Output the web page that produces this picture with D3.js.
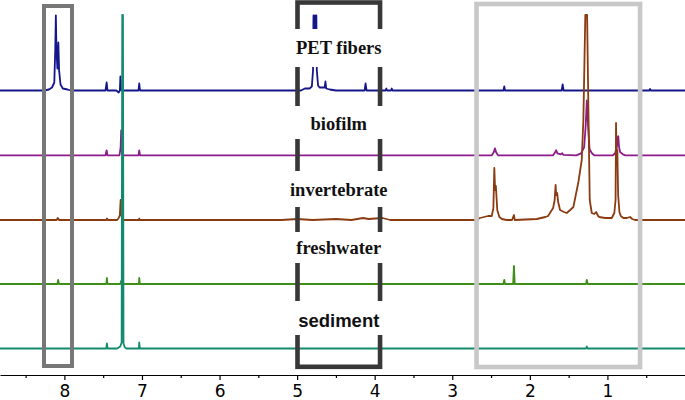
<!DOCTYPE html>
<html>
<head>
<meta charset="utf-8">
<script src="https://cdn.jsdelivr.net/npm/d3@7"></script>
<style>
html,body{margin:0;padding:0;background:#fff;}
svg{display:block;}
</style>
</head>
<body>
<svg id="chart" width="685" height="400"></svg>
<script>
// ---- data: chemical shift (ppm) vs. intensity above each trace's baseline ----
const seriesNames = ["PET fibers", "biofilm", "invertebrate", "freshwater", "sediment"];
const seriesOffsets = [284.5, 219.7, 155, 91, 26.5];

const petFibers = [[8.83,0],[8.26,0],[8.2,1],[8.16,3],[8.13,8],[8.118,40],[8.110,75],[8.102,40],[8.09,22],[8.078,48],[8.068,20],[8.05,6],[8.02,2],[7.96,1],[7.92,0],
  [7.47,0],[7.455,8],[7.445,0],[7.33,0],[7.30,-2],[7.285,0],[7.278,14],[7.27,1],[7.26,0],[7.045,0],[7.035,7],[7.025,0],
  [4.95,0],[4.90,2],[4.84,2],[4.81,4],[4.795,20],[4.789,75],[4.781,75],[4.775,60],[4.766,60],[4.760,75],[4.752,75],[4.746,20],[4.73,5],[4.71,3],[4.68,3],[4.645,3],[4.635,9],[4.625,2],[4.58,1],[4.5,0],
  [4.13,0],[4.118,7],[4.105,0],[3.86,0],[3.85,2],[3.84,0],[3.79,0],[3.78,2],[3.77,0],
  [2.34,0],[2.33,4],[2.32,0],[1.59,0],[1.577,6],[1.565,0],[0.46,0],[0.45,1.5],[0.44,0],[0,0]];

const biofilm = [[8.83,0],[7.47,0],[7.455,5],[7.445,0],[7.29,0],[7.275,8],[7.268,25],[7.262,6],[7.25,0],[7.045,0],[7.035,5],[7.025,0],
  [2.49,0],[2.465,3],[2.45,7],[2.435,3],[2.41,0],[1.70,0],[1.675,3],[1.66,5],[1.645,2],[1.6,1],[1.58,2],[1.57,0.5],
  [1.40,0],[1.34,2],[1.30,8],[1.28,30],[1.265,55],[1.25,30],[1.23,6],[1.20,2],[1.17,0],
  [0.93,0],[0.90,2],[0.875,10],[0.868,18],[0.86,19],[0.85,8],[0.835,3],[0.8,1],[0.77,0],[0,0]];

const invertebrate = [[8.83,0],[8.10,0],[8.085,2],[8.07,0],[7.46,0],[7.45,1.5],[7.44,0],
  [7.32,0],[7.30,2],[7.285,5],[7.275,20],[7.268,6],[7.255,1],[7.24,0],[7.04,0],[7.035,1.5],[7.03,0],
  [5.2,0],[5.0,1],[4.8,0],[4.5,1],[4.3,0],[4.15,2],[4.08,1],[3.9,2],[3.8,0],
  [2.70,0],[2.642,2],[2.539,4],[2.491,4],[2.47,12],[2.458,52],[2.448,30],[2.438,34],[2.42,10],[2.393,3],[2.36,1],[2.3,0],
  [2.23,0],[2.205,5],[2.195,0],[1.911,1],[1.80,3],[1.765,4],[1.70,12],[1.68,20],[1.668,35],[1.66,25],[1.648,27],[1.635,18],[1.611,10],
  [1.56,8],[1.524,7],[1.48,10],[1.439,13],[1.374,38],[1.331,60],[1.31,100],[1.285,205],[1.262,205],[1.245,110],[1.228,20],[1.202,7],
  [1.17,6],[1.146,8],[1.12,4],[1.104,3],[1.030,2],[0.944,2],[0.911,7],[0.895,20],[0.889,97],[0.88,55],[0.872,70],[0.862,25],
  [0.845,8],[0.828,4],[0.794,2],[0.75,2],[0.708,3],[0.68,1],[0.644,0],[0,0]];

const freshwater = [[8.83,0],[8.09,0],[8.08,4],[8.07,0],[7.46,0],[7.452,6],[7.444,0],[7.28,0],[7.268,3],[7.26,0],[7.04,0],[7.035,6],[7.028,0],
  [2.34,0],[2.33,4],[2.32,0],[2.215,0],[2.205,18],[2.195,0],[1.275,0],[1.266,4],[1.255,0],[0,0]];

const sediment = [[8.83,0],[7.46,0],[7.452,5],[7.444,0],[7.32,0],[7.28,2],[7.262,6],[7.254,333.5],[7.245,333.5],[7.238,5],[7.22,1],[7.2,0],
  [7.04,0],[7.035,6],[7.028,0],[1.275,0],[1.266,2],[1.255,0],[0,0]];

const seriesData = [petFibers, biofilm, invertebrate, freshwater, sediment];
const majorTicks = [8, 7, 6, 5, 4, 3, 2, 1];
const minorTicks = [8.5, 7.5, 6.5, 5.5, 4.5, 3.5, 2.5, 1.5, 0.5];
// highlighted regions (ppm)
const boxRegions = [[8.263, 7.902], [4.995, 3.931], [2.687, 0.579]];

// ---- styling / layout ----
const colors = ["#15168a", "#8e1b8b", "#8b3b10", "#3e8e18", "#138a6d"];
const boxColors = ["#777777", "#383838", "#c8c8c8"];
const W = 685, H = 400, axisY = 375;

const svg = d3.select("#chart");
const x = d3.scaleLinear().domain([8.83, 0]).range([0, W]);
const y = d3.scaleLinear().domain([0, 375]).range([axisY, 0]);

// spectra
seriesData.forEach((d, i) => {
  const line = d3.line().x(p => x(p[0])).y(p => y(seriesOffsets[i] + p[1]));
  svg.append("path").datum(d)
    .attr("d", line)
    .attr("fill", "none")
    .attr("stroke", colors[i])
    .attr("stroke-width", 1.8)
    .attr("stroke-linejoin", "round");
});

// boxes
const boxTop = [6, 2.5, 4], boxBottom = [366, 366.8, 367], boxSW = [4, 4.6, 4.6];
boxRegions.forEach((r, i) => {
  const x0 = x(r[0]), x1 = x(r[1]);
  svg.append("rect")
    .attr("x", x0).attr("y", boxTop[i])
    .attr("width", x1 - x0).attr("height", boxBottom[i] - boxTop[i])
    .attr("fill", "none")
    .attr("stroke", boxColors[i])
    .attr("stroke-width", boxSW[i]);
});

// label gaps + labels in the middle box
const gaps = [[29, 67], [106, 139], [171, 207], [232, 263], [301, 335]];
const labelBase = [54.3, 130, 196, 254, 326.5];
const mx0 = x(boxRegions[1][0]), mx1 = x(boxRegions[1][1]);
gaps.forEach(g => {
  svg.append("rect").attr("x", mx0 - 4).attr("y", g[0])
    .attr("width", mx1 - mx0 + 8).attr("height", g[1] - g[0])
    .attr("fill", "#fff");
});
seriesNames.forEach((name, i) => {
  svg.append("text")
    .attr("x", (mx0 + mx1) / 2)
    .attr("y", labelBase[i])
    .attr("text-anchor", "middle")
    .attr("font-family", i === 4 ? "'Liberation Sans', Arial, sans-serif" : "'Liberation Serif', 'Times New Roman', serif")
    .attr("font-weight", "bold")
    .attr("font-size", "18.5px")
    .attr("fill", "#111")
    .text(name);
});

// axis
const axis = d3.axisBottom(x).tickValues(majorTicks).tickSize(5).tickSizeOuter(0).tickPadding(4.5).tickFormat(d3.format("d"));
const g = svg.append("g").attr("transform", `translate(0,${axisY})`).call(axis);
g.selectAll("text").attr("font-family", "'DejaVu Sans', sans-serif").attr("font-size", "17px").attr("fill", "#000");
g.select(".domain").attr("stroke", "#000").attr("stroke-width", 1.2);
g.selectAll(".tick line").attr("stroke", "#000").attr("stroke-width", 1.2);
const minor = d3.axisBottom(x).tickValues(minorTicks).tickSize(3).tickSizeOuter(0).tickFormat("");
const gm = svg.append("g").attr("transform", `translate(0,${axisY})`).call(minor);
gm.select(".domain").remove();
gm.selectAll(".tick line").attr("stroke", "#000").attr("stroke-width", 1.2);
</script>
</body>
</html>
